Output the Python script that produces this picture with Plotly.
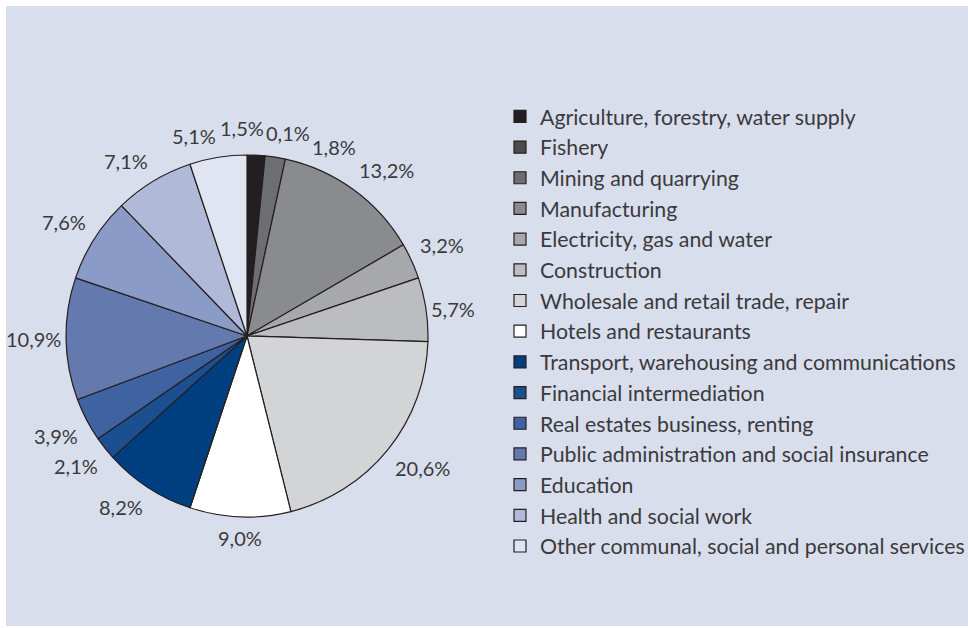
import math
import plotly.graph_objects as go

# Share of employment by economic activity (%)
sectors = [
    "Agriculture, forestry, water supply",
    "Fishery",
    "Mining and quarrying",
    "Manufacturing",
    "Electricity, gas and water",
    "Construction",
    "Wholesale and retail trade, repair",
    "Hotels and restaurants",
    "Transport, warehousing and communications",
    "Financial intermediation",
    "Real estates business, renting",
    "Public administration and social insurance",
    "Education",
    "Health and social work",
    "Other communal, social and personal services",
]
shares = [1.5, 0.1, 1.8, 13.2, 3.2, 5.7, 20.6, 9.0, 8.2, 2.1, 3.9, 10.9, 7.6, 7.1, 5.1]
slice_colors = [
    "#231f20", "#4d4d4f", "#6d6e71", "#8a8b8e", "#a7a8ab",
    "#bcbdc0", "#d3d4d6", "#ffffff", "#003f7f", "#1c4f8f",
    "#3f62a0", "#6479ad", "#8b9bc7", "#b1b9d9", "#e1e5f1",
]

W, H = 968, 628
PANEL = "#d9deec"
TEXT = "#3a3a3c"
FONT = "Lato"

# pie geometry in pixels
cx, cy, r = 247, 336, 181

# manual nudges (px) for the crowded labels around 12 o'clock
label_nudge = {1: (-14, 6), 2: (23, 2), 3: (34, -11)}

fig = go.Figure(
    go.Pie(
        labels=sectors,
        values=shares,
        textinfo="none",
        marker=dict(colors=slice_colors, line=dict(color="#231f20", width=1.2)),
        sort=False,
        direction="clockwise",
        rotation=0,
        hoverinfo="label+percent",
        domain=dict(x=[(cx - r) / W, (cx + r) / W], y=[1 - (cy + r) / H, 1 - (cy - r) / H]),
    )
)

# percentage labels (decimal comma) placed just outside each slice's mid-angle
total = sum(shares)
annotations = []
cum = 0.0
for i, v in enumerate(shares, start=1):
    mid = (cum + v / 2) / total * 2 * math.pi
    cum += v
    s, c = math.sin(mid), math.cos(mid)
    xa = "center" if abs(s) < 0.12 else ("left" if s > 0 else "right")
    ya = "middle" if abs(c) < 0.3 else ("bottom" if c > 0 else "top")
    gap = 4 if ya == "middle" else 8
    px = cx + (r + gap) * s
    py = cy - (r + gap) * c
    dx, dy = label_nudge.get(i, (0, 0))
    annotations.append(dict(
        x=px / W, y=1 - py / H, xref="paper", yref="paper",
        text=f"{v:.1f}".replace(".", ",") + "%",
        showarrow=False, xanchor=xa, yanchor=ya,
        xshift=dx, yshift=dy, borderpad=0,
        font=dict(family=FONT, size=20, color=TEXT),
    ))

fig.update_layout(
    width=W,
    height=H,
    margin=dict(l=0, r=0, t=0, b=0, autoexpand=False),
    paper_bgcolor="white",
    plot_bgcolor="white",
    font=dict(family=FONT, color=TEXT),
    annotations=annotations,
    shapes=[
        dict(
            type="rect", xref="paper", yref="paper",
            x0=6 / W, x1=1.0, y0=1 - 626 / H, y1=1 - 6 / H,
            fillcolor=PANEL, line=dict(width=0), layer="below",
        )
    ],
    legend=dict(
        x=500 / W, xanchor="left",
        y=1 - 96 / H, yanchor="top",
        bgcolor="rgba(0,0,0,0)",
        font=dict(family=FONT, size=21.3, color=TEXT),
        traceorder="normal",
    ),
    showlegend=True,
)

fig.write_html("out.html")
